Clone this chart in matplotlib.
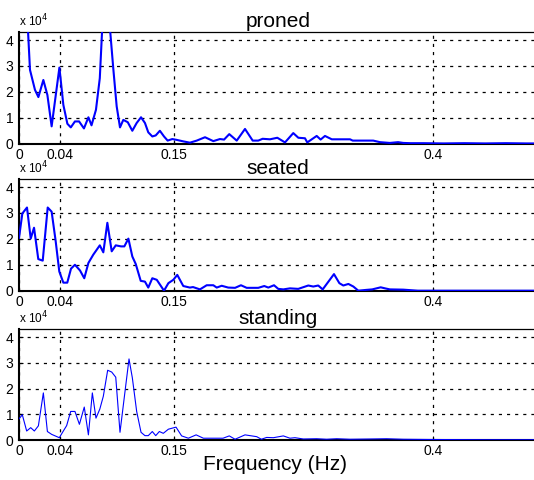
import matplotlib
matplotlib.use("Agg")
import matplotlib.pyplot as plt

plt.rcParams['font.family'] = ['Liberation Sans', 'DejaVu Sans']

# power spectra, values in units of 1e4
f_proned = [0.0, 0.0035, 0.0066, 0.0106, 0.0154, 0.0187, 0.0235, 0.0274, 0.0315, 0.039,
            0.0428, 0.0467, 0.050, 0.054, 0.058, 0.0627, 0.067, 0.070, 0.0743, 0.078,
            0.0805, 0.084, 0.0875, 0.091, 0.0943, 0.0975, 0.1007, 0.105, 0.1094, 0.1136,
            0.1178, 0.1216, 0.1248, 0.1287, 0.132, 0.136, 0.140, 0.1435, 0.148, 0.152,
            0.1586, 0.165, 0.1716, 0.1796, 0.1876, 0.194, 0.198, 0.203, 0.2102, 0.2182,
            0.2256, 0.231, 0.2352, 0.2423, 0.2494, 0.2568, 0.2648, 0.2697, 0.2761, 0.2783,
            0.2874, 0.2912, 0.2954, 0.302, 0.3196, 0.3222, 0.342, 0.3485, 0.358, 0.366,
            0.371, 0.378, 0.39, 0.41, 0.43, 0.45, 0.47, 0.49, 0.5]
p_proned = [9.0, 8.0, 6.0, 2.85, 2.08, 1.80, 2.46, 1.88, 0.67, 2.94,
            1.50, 0.77, 0.63, 0.86, 0.86, 0.59, 1.02, 0.71, 1.31, 2.53,
            4.6, 7.0, 4.6, 2.91, 1.44, 0.63, 0.92, 0.83, 0.50, 0.80,
            1.02, 0.80, 0.44, 0.28, 0.32, 0.50, 0.28, 0.12, 0.18, 0.15,
            0.09, 0.04, 0.12, 0.25, 0.10, 0.18, 0.16, 0.37, 0.12, 0.57,
            0.12, 0.12, 0.19, 0.17, 0.23, 0.05, 0.41, 0.23, 0.21, 0.05,
            0.30, 0.16, 0.30, 0.17, 0.17, 0.12, 0.12, 0.06, 0.03, 0.06,
            0.03, 0.02, 0.02, 0.01, 0.02, 0.01, 0.02, 0.01, 0.01]

f_seated = [0.0, 0.0032, 0.0077, 0.0113, 0.0145, 0.0186, 0.0229, 0.0277, 0.0315, 0.0354,
            0.0389, 0.0428, 0.0466, 0.0502, 0.054, 0.0589, 0.063, 0.067, 0.0717, 0.078,
            0.0814, 0.0853, 0.0895, 0.0934, 0.0985, 0.1017, 0.1056, 0.1094, 0.1127, 0.1175,
            0.1216, 0.1248, 0.1287, 0.133, 0.140, 0.1442, 0.149, 0.1528, 0.1586, 0.165,
            0.168, 0.1747, 0.1812, 0.1876, 0.1909, 0.1957, 0.202, 0.2086, 0.2143, 0.2198,
            0.231, 0.2368, 0.2407, 0.2462, 0.2503, 0.2552, 0.2616, 0.2696, 0.2793, 0.2841,
            0.2889, 0.2932, 0.3041, 0.3093, 0.3131, 0.318, 0.3228, 0.3276, 0.3351, 0.341,
            0.3492, 0.3534, 0.358, 0.371, 0.378, 0.385, 0.5]
p_seated = [2.04, 2.98, 3.21, 2.01, 2.43, 1.22, 1.16, 3.21, 3.05, 1.91,
            0.74, 0.31, 0.31, 0.85, 1.00, 0.78, 0.48, 1.07, 1.39, 1.75,
            1.48, 2.62, 1.52, 1.75, 1.71, 1.71, 2.01, 1.32, 1.03, 0.38,
            0.35, 0.12, 0.48, 0.42, 0.0, 0.29, 0.42, 0.61, 0.18, 0.12,
            0.14, 0.05, 0.21, 0.21, 0.12, 0.19, 0.12, 0.11, 0.21, 0.11,
            0.11, 0.18, 0.12, 0.21, 0.07, 0.05, 0.09, 0.07, 0.20, 0.16,
            0.20, 0.05, 0.64, 0.29, 0.20, 0.26, 0.16, 0.0, 0.03, 0.05,
            0.13, 0.09, 0.05, 0.04, 0.02, 0.0, 0.0]

f_standing = [0.0, 0.0032, 0.0074, 0.0113, 0.0148, 0.0187, 0.0235, 0.0274, 0.0315, 0.0389,
              0.0428, 0.046, 0.0499, 0.054, 0.0583, 0.063, 0.067, 0.0708, 0.0743, 0.078,
              0.0814, 0.0856, 0.0895, 0.0934, 0.0975, 0.1062, 0.1094, 0.1136, 0.1178, 0.1216,
              0.1248, 0.1287, 0.132, 0.1355, 0.1393, 0.1442, 0.1516, 0.157, 0.1635, 0.171,
              0.178, 0.197, 0.203, 0.2086, 0.2182, 0.2295, 0.234, 0.2391, 0.2456, 0.2552,
              0.2616, 0.2664, 0.2745, 0.2874, 0.297, 0.3067, 0.3196, 0.3389, 0.355, 0.371,
              0.40, 0.45, 0.5]
p_standing = [0.82, 0.98, 0.35, 0.48, 0.35, 0.55, 1.83, 0.33, 0.22, 0.09,
              0.35, 0.56, 1.11, 1.11, 0.61, 1.28, 0.20, 1.83, 0.85, 1.20,
              1.70, 2.71, 2.64, 2.44, 0.30, 3.15, 2.42, 1.11, 0.30, 0.17,
              0.17, 0.33, 0.17, 0.33, 0.26, 0.42, 0.50, 0.16, 0.07, 0.20,
              0.07, 0.07, 0.16, 0.03, 0.20, 0.13, 0.03, 0.10, 0.09, 0.16,
              0.07, 0.09, 0.04, 0.05, 0.03, 0.05, 0.03, 0.04, 0.05, 0.03,
              0.02, 0.01, 0.01]

titles = ['proned', 'seated', 'standing']
xticks = [0, 0.04, 0.15, 0.4]
xtick_labels = ['0', '0.04', '0.15', '0.4']
yticks = [0, 1, 2, 3, 4]

series = [(f_proned, p_proned, 1.5), (f_seated, p_seated, 1.5), (f_standing, p_standing, 0.8)]
bottoms = [0.7006, 0.3944, 0.0833]
heights = [0.2321, 0.2321, 0.2306]

fig = plt.figure(figsize=(5.34, 4.8), dpi=100)

for (f, p, lw), title, b, h in zip(series, titles, bottoms, heights):
    ax = fig.add_axes([0.0356, b, 0.9698, h])
    ax.plot(f, p, color='blue', lw=lw, zorder=3)
    ax.set_xlim(0, 0.5)
    ax.set_ylim(0, 4.3)
    ax.set_xticks(xticks)
    ax.set_xticklabels(xtick_labels)
    ax.set_yticks(yticks)
    ax.tick_params(direction='in', length=3, labelsize=10, color='black')
    ax.tick_params(axis='x', pad=3)
    ax.tick_params(axis='y', pad=4)
    ax.grid(True, color='black', lw=0.9, linestyle=(0, (2.5, 4)))
    for side in ['left', 'bottom']:
        ax.spines[side].set_linewidth(1.5)
    ax.spines['top'].set_linewidth(0.9)
    ax.set_title(title, fontsize=15, pad=4)
    ax.text(0.0, 1.03, r'x 10$^4$', transform=ax.transAxes, fontsize=8.5,
            ha='left', va='bottom')

fig.text(0.515, 0.012, 'Frequency (Hz)', fontsize=15, ha='center', va='bottom')

fig.savefig('out.png', dpi=100)
